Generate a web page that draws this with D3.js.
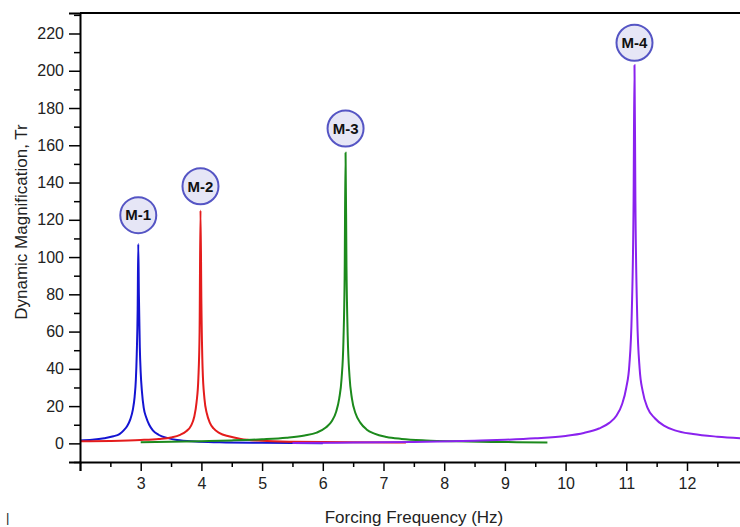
<!DOCTYPE html>
<html>
<head>
<meta charset="utf-8">
<script src="https://cdn.jsdelivr.net/npm/d3@7"></script>
<style>
  body { margin: 0; background: #fff; }
  svg { display: block; font-family: "Liberation Sans", Arial, sans-serif; }
</style>
</head>
<body>
<script>
// frequency (Hz) vs dynamic magnification
let m1 = [[2.0,1.6],[2.2,2.0],[2.4,2.8],[2.55,3.8],[2.65,5.0],[2.72,7],[2.78,9.5],[2.83,13],[2.87,18],[2.9,25],[2.92,34],[2.935,48],[2.95,72],[2.96,107],[2.97,80],[2.985,52],[3.0,38],[3.02,28],[3.05,19],[3.09,14],[3.14,10],[3.2,7],[3.3,4.5],[3.45,2.8],[3.6,1.8],[3.9,1.0],[4.3,0.6],[5.0,0.3],[6.0,0.1]];
let m2 = [[2.0,1.1],[2.5,1.3],[3.0,1.8],[3.3,2.4],[3.5,3.2],[3.65,4.6],[3.75,6.5],[3.83,9.5],[3.88,14],[3.92,22],[3.95,35],[3.97,60],[3.985,125],[4.0,75],[4.02,40],[4.05,24],[4.09,16],[4.14,11],[4.2,8],[4.3,5.5],[4.45,3.8],[4.65,2.4],[5.0,1.4],[5.5,0.9],[6.5,0.6],[7.37,0.5]];
let m3 = [[3.0,0.6],[3.5,0.9],[4.0,1.2],[4.5,1.6],[5.0,2.2],[5.4,3.0],[5.7,4.2],[5.9,5.8],[6.05,8.5],[6.15,12],[6.22,17],[6.27,24],[6.31,35],[6.34,55],[6.36,90],[6.375,156],[6.39,95],[6.41,58],[6.44,36],[6.48,24],[6.54,16],[6.62,11],[6.72,7.5],[6.85,5.2],[7.05,3.4],[7.3,2.4],[7.7,1.6],[8.2,1.1],[9.0,0.7],[9.7,0.5]];
let m4 = [[5.5,0.2],[6.5,0.4],[7.5,0.8],[8.5,1.4],[9.0,1.9],[9.5,2.7],[10.0,4.0],[10.3,5.6],[10.55,8],[10.72,11],[10.84,15],[10.93,21],[11.0,30],[11.05,42],[11.09,70],[11.12,130],[11.135,203],[11.15,130],[11.18,68],[11.22,40],[11.27,28],[11.35,19],[11.47,13.5],[11.62,9.5],[11.8,7],[12.1,5],[12.5,3.6],[13.0,2.6]];

let seriesNames = ["M-1", "M-2", "M-3", "M-4"];
let seriesColors = ["#1414d2", "#e41c1c", "#1c8a1c", "#8a22ee"];
// where each name bubble sits (frequency, magnification)
let labelPos = [[2.96, 122.5], [3.985, 138], [6.375, 169], [11.135, 215]];

let xTicks = [2, 3, 4, 5, 6, 7, 8, 9, 10, 11, 12];
let yTicks = [0, 20, 40, 60, 80, 100, 120, 140, 160, 180, 200, 220];

window.onload = function() {
    let width = 740;
    let height = 527;
    let left = 80, top = 13, bottom = 462;

    let svg = d3.select("body")
        .append("svg")
        .attr("width", width)
        .attr("height", height)
        .style("overflow", "hidden");

    let x = d3.scaleLinear().domain([2, 13]).range([left, left + 11 * 60.7]);
    let y = d3.scaleLinear().domain([-10, 231]).range([bottom, top]);

    // curves
    let line = d3.line()
        .x(d => x(d[0]))
        .y(d => y(d[1]))
        .curve(d3.curveMonotoneX);

    let all = [m1, m2, m3, m4];
    svg.selectAll("path.curve")
        .data(all)
        .enter()
        .append("path")
        .attr("class", "curve")
        .attr("d", line)
        .style("fill", "none")
        .style("stroke", (d, i) => seriesColors[i])
        .style("stroke-width", 2);

    // x axis, major + minor ticks
    let xMinor = d3.range(2.5, 13, 1);
    svg.append("g")
        .attr("transform", `translate(0,${bottom})`)
        .call(d3.axisBottom(x).tickValues(xMinor).tickSize(5).tickFormat(""))
        .call(g => g.select(".domain").remove());
    svg.append("g")
        .attr("transform", `translate(0,${bottom})`)
        .call(d3.axisBottom(x).tickValues(xTicks).tickSize(9).tickPadding(7)
            .tickFormat(d => d === 2 ? "" : d));

    // y axis
    let yMinor = d3.range(-10, 231, 20);
    svg.append("g")
        .attr("transform", `translate(${left},0)`)
        .call(d3.axisLeft(y).tickValues(yMinor).tickSize(6).tickFormat(""))
        .call(g => g.select(".domain").remove());
    svg.append("g")
        .attr("transform", `translate(${left},0)`)
        .call(d3.axisLeft(y).tickValues(yTicks).tickSize(11).tickPadding(5));

    svg.selectAll(".tick line").style("stroke", "#000").style("stroke-width", 1.5);
    svg.selectAll(".domain").style("stroke", "#000").style("stroke-width", 2);
    svg.selectAll(".tick text").style("font-size", "16px").style("fill", "#222")
        .style("font-family", "'Liberation Sans', Arial, sans-serif");

    // top frame line
    svg.append("line")
        .attr("x1", left).attr("x2", width)
        .attr("y1", top).attr("y2", top)
        .style("stroke", "#000").style("stroke-width", 2);

    // titles
    svg.append("text")
        .attr("transform", "translate(27,222) rotate(-90)")
        .attr("text-anchor", "middle")
        .style("font-size", "17px")
        .style("fill", "#222")
        .text("Dynamic Magnification, Tr");

    svg.append("text")
        .attr("x", 414)
        .attr("y", 523)
        .attr("text-anchor", "middle")
        .style("font-size", "17px")
        .style("fill", "#222")
        .text("Forcing Frequency (Hz)");

    svg.append("text")
        .attr("x", 6)
        .attr("y", 522)
        .style("font-size", "13px")
        .style("fill", "#222")
        .text("|");

    // name bubbles
    let tags = svg.selectAll("g.tag")
        .data(seriesNames)
        .enter()
        .append("g")
        .attr("class", "tag")
        .attr("transform", (d, i) => `translate(${x(labelPos[i][0])},${y(labelPos[i][1])})`);

    tags.append("circle")
        .attr("r", 18)
        .style("fill", "#e6e6f6")
        .style("stroke", "#5555c4")
        .style("stroke-width", 2);

    tags.append("text")
        .attr("text-anchor", "middle")
        .attr("dy", "0.35em")
        .style("font-size", "15px")
        .style("font-weight", "bold")
        .style("fill", "#111")
        .text(d => d);
}
</script>
</body>
</html>
